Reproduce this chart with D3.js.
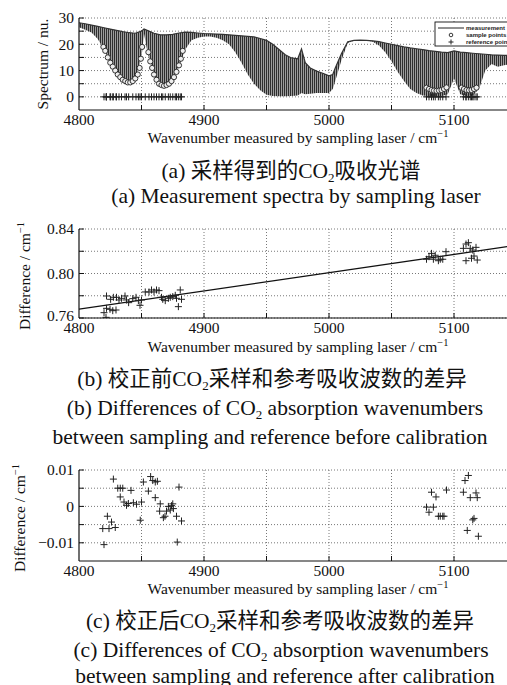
<!DOCTYPE html>
<meta charset="utf-8">
<script src="https://cdn.jsdelivr.net/npm/d3@7/dist/d3.min.js"></script>
<style>
body { margin: 0; background: #fff; }
svg { display: block; font-family: "Liberation Serif", "Noto Sans CJK SC", serif; }
.grid line { stroke: #555; stroke-width: 0.8; stroke-dasharray: 1,2; }
.tick-label { font-size: 15.5px; fill: #111; }
.caption { font-size: 21.5px; fill: #111; }
</style>
<body>
<script>
// ---- data ----
// (a) spectrum: upper envelope and depth of the absorption lines
var specWn = [4800,4805,4810,4815,4820,4825,4830,4835,4840,4845,
              4850,4852,4855,4860,4865,4870,4875,4880,4885,4890,
              4895,4900,4905,4910,4915,4920,4925,4930,4935,4940,
              4945,4950,4955,4960,4965,4970,4975,4978,4981,4985,
              4990,4995,5000,5003,5005,5010,5015,5020,5025,5030,
              5035,5040,5045,5050,5055,5060,5065,5070,5075,5080,
              5085,5090,5095,5100,5105,5110,5115,5120,5125,5130,
              5135,5140,5145];
var specTop = [28.2,27.8,27.3,26.8,26.3,25.8,25.3,24.8,24.4,24.2,
               25.0,25.8,25.2,24.2,23.6,23.6,23.8,24.3,24.6,24.5,
               24.3,24.1,24.0,23.9,23.8,23.6,23.4,23.2,23.0,22.8,
               22.2,21.5,20.0,18.0,16.0,14.8,14.5,18.2,13.0,11.0,
               9.8,9.0,8.0,8.5,11.0,16.5,21.0,21.5,21.6,21.5,
               21.3,21.0,20.5,20.0,19.5,19.0,18.6,18.3,18.0,17.6,
               17.3,17.0,16.8,17.5,17.0,16.8,16.6,16.4,16.2,16.0,
               15.9,15.8,15.7];
var specBottom = [26.5,25.5,24.5,22.0,18.0,13.0,9.0,6.0,5.2,6.5,
                  15.0,24.0,16.5,8.5,5.0,4.3,6.0,11.5,18.0,21.5,
                  22.5,23.0,23.0,22.5,21.5,20.0,17.0,13.0,8.5,5.0,
                  2.5,0.8,0.3,0.2,0.2,0.3,0.5,1.5,1.0,1.2,
                  1.5,1.5,1.5,3.0,6.0,14.0,20.5,21.3,21.5,21.4,
                  21.0,19.5,17.0,13.5,9.5,6.0,3.0,1.5,0.5,0.2,
                  0.2,0.3,1.0,7.0,1.0,0.3,0.5,3.0,10.0,12.5,
                  11.5,12.0,12.5];
// (a) sample points (circles)
var sampleWn = [4819.5,4821,4823,4825,4827,4829,4831,4833,4835,4837,4839,4841,4843,4845,4847,4848.5,4849.5,4850.5,
                4855.5,4857,4858.5,4860,4862,4864,4866,4868,4870,4872,4874,4876,4878,4880,4881.5,4883,
                5078,5080,5082,5084,5086,5088,5090,5092,5094,
                5106,5108,5110,5112,5114,5116,5118];
var sampleVal = [19,17.5,15,13,11.5,10,8.5,7.5,6.5,6,5.5,5.5,6,7,8.5,11,14.5,19,
                 17,13.5,11,8.5,6.5,5,4.5,4.2,4.5,5,6,7.5,9.5,12,14.5,17.5,
                 3.5,3,2.6,2.4,2.3,2.4,2.6,3,3.6,
                 3.5,3,2.6,2.5,2.6,3,3.5];
// (b) difference before calibration
var bWn = [4820,4821.6,4822,4824.8,4827,4829.6,4822,4825.3,4827.5,4830,4832,4834,4836.8,4838,4839.7,
           4843,4845.6,4847.5,4848.8,4850,4853,4856,4858,4860,4862,4864,4866,4867,4869,4871.5,4873,
           4875,4877,4878,4879.5,4881,4882,
           5078,5080,5082,5083.5,5085,5087.5,5089,5091,5093.6,
           5107.5,5109.6,5111.5,5113,5115,5116,5117.6,5109.6,5114,5118.6];
var bDiff = [0.7648,0.7606,0.7687,0.7678,0.7666,0.7672,0.7798,0.7768,0.7786,0.7786,0.7762,0.7777,0.7798,0.7762,0.7738,
             0.7774,0.7786,0.7756,0.7714,0.7762,0.7834,0.7834,0.7852,0.7834,0.7852,0.7846,0.7786,0.7768,0.7756,0.7777,0.7786,
             0.7792,0.7804,0.7777,0.7702,0.7852,0.7768,
             0.8128,0.8151,0.8181,0.8128,0.8164,0.8115,0.8128,0.8128,0.8196,
             0.8226,0.8265,0.8277,0.8226,0.8211,0.8157,0.8235,0.8115,0.8137,0.8121];
var fitWn = [4800, 5145];
var fitDiff = [0.768, 0.8245];
// (c) difference after calibration
var cWn = [4827.5,4831,4833,4835,4833,4836,4838,4839.5,4841.6,4843.5,4846,4849,4850,4819,4822.7,
           4824,4826,4829,4820,4851.5,4855.5,4857.3,4859,4861,4862.7,4861,4864.5,4865,4867.5,4868.8,
           4870,4871.5,4873,4874,4875,4875.5,4878,4878.6,4880,4882,
           5082,5085.6,5078,5080,5083.5,5087.5,5089,5091,5092,5094,
           5111.5,5108.8,5107.5,5113,5117.6,5118.6,5115,5116,5110.6,5119.5];
var cDiff = [0.0075,0.005,0.005,0.005,0.0026,0.0012,0.0003,0.0008,0.0044,0.001,0.0006,-0.0038,0.0012,-0.0061,-0.0027,
             -0.0061,-0.0043,-0.0058,-0.0105,0.0067,0.0042,0.0082,0.0071,0.0067,0.0069,0.0024,-0.0013,0.0007,-0.0031,-0.0027,
             -0.0013,0,-0.001,0.0002,0.0007,-0.0006,-0.0027,-0.0098,0.0053,-0.004,
             0.0039,0.0026,-0.0002,-0.0016,-0.0002,-0.0027,-0.0027,-0.0027,-0.0027,0.0045,
             0.0085,0.0071,0.0039,0.0024,0.0037,0.0024,-0.0037,-0.0033,-0.0066,-0.0082];

var xTickLabels = [4800, 4900, 5000, 5100];
var xGrid = [4850, 4900, 4950, 5000, 5050, 5100];
var legendLabels = ["measurement", "sample points", "reference points"];

// ---- layout ----
var width = 507, height = 685;
var svg = d3.select("body").append("svg")
    .attr("width", width)
    .attr("height", height);

var defs = svg.append("defs");
var pat = defs.append("pattern")
    .attr("id", "spikes")
    .attr("patternUnits", "userSpaceOnUse")
    .attr("width", 2).attr("height", 4);
pat.append("rect").attr("width", 2).attr("height", 4).attr("fill", "#9c9c9c");
pat.append("rect").attr("width", 1).attr("height", 4).attr("fill", "#2e2e2e");

var x = d3.scaleLinear().domain([4800, 5142.4]).range([79, 507]);

var plus = "M-3.5,0H3.5M0,-3.5V3.5";

function panel(p) {
  var y = d3.scaleLinear().domain(p.yDomain).range([p.bottom, p.top]);
  var g = svg.append("g");

  defs.append("clipPath").attr("id", "clip" + p.id)
    .append("rect").attr("x", 79).attr("y", p.top - 4)
    .attr("width", 430).attr("height", p.bottom - p.top + 4);

  var grid = g.append("g").attr("class", "grid");
  grid.selectAll(".gy").data(p.yGrid).enter().append("line")
      .attr("x1", 79).attr("x2", 507)
      .attr("y1", function(d) { return y(d); })
      .attr("y2", function(d) { return y(d); });
  grid.selectAll(".gx").data(xGrid).enter().append("line")
      .attr("x1", function(d) { return x(d); })
      .attr("x2", function(d) { return x(d); })
      .attr("y1", p.top).attr("y2", p.bottom);

  var plot = g.append("g").attr("clip-path", "url(#clip" + p.id + ")");

  // axes: left and bottom solid, inward ticks
  g.append("line").attr("x1", 79).attr("x2", 79).attr("y1", p.top).attr("y2", p.bottom)
      .attr("stroke", "#111").attr("stroke-width", 1.2);
  g.append("line").attr("x1", 79).attr("x2", 507).attr("y1", p.bottom).attr("y2", p.bottom)
      .attr("stroke", "#111").attr("stroke-width", 1.2);
  g.selectAll(".xt").data(xGrid).enter().append("line")
      .attr("x1", function(d) { return x(d); })
      .attr("x2", function(d) { return x(d); })
      .attr("y1", p.bottom).attr("y2", p.bottom - 5)
      .attr("stroke", "#111");
  g.selectAll(".yt").data(p.yGrid).enter().append("line")
      .attr("x1", 79).attr("x2", 84)
      .attr("y1", function(d) { return y(d); })
      .attr("y2", function(d) { return y(d); })
      .attr("stroke", "#111");

  g.selectAll(".xl").data(xTickLabels).enter().append("text")
      .attr("class", "tick-label")
      .attr("x", function(d) { return x(d); })
      .attr("y", p.bottom + 15)
      .attr("text-anchor", "middle")
      .text(function(d) { return d; });
  g.selectAll(".yl").data(p.yLabels).enter().append("text")
      .attr("class", "tick-label")
      .attr("x", 74)
      .attr("y", function(d) { return y(d) - (p.lowShift && d === p.yLabels[0] ? 2 : 0); })
      .attr("dy", "0.35em")
      .attr("text-anchor", "end")
      .text(p.yFormat);

  // axis titles
  var xt = g.append("text").attr("class", "tick-label")
      .attr("x", 298).attr("y", p.xTitleY).attr("text-anchor", "middle");
  xt.append("tspan").text("Wavenumber measured by sampling laser / cm");
  xt.append("tspan").attr("dy", -6).attr("font-size", "10.5px").text("\u22121");

  var yt = g.append("text").attr("class", "tick-label")
      .attr("transform", "translate(" + p.yTitleX + "," + p.yTitleY + ") rotate(-90)")
      .attr("text-anchor", "middle");
  yt.append("tspan").text(p.yTitle);
  if (p.yTitleSup) yt.append("tspan").attr("dy", -6).attr("font-size", "10.5px").text(p.yTitleSup);

  return {y: y, plot: plot, g: g};
}

// parts: plain strings, or ["2"] arrays for a subscript
function caption(cx, cy, parts) {
  var t = svg.append("text").attr("class", "caption")
      .attr("x", cx).attr("y", cy).attr("text-anchor", "middle");
  var back = 0;
  parts.forEach(function(s) {
    if (Array.isArray(s)) {
      t.append("tspan").attr("dy", 4).attr("font-size", "13px").text(s[0]);
      back = -4;
    } else {
      t.append("tspan").attr("dy", back).text(s);
      back = 0;
    }
  });
}

// ---- (a) ----
var A = panel({id: "a", top: 18, bottom: 110, yDomain: [-5, 30],
  yGrid: [0, 5, 10, 15, 20, 25, 30], yLabels: [0, 10, 20, 30],
  yFormat: function(d) { return d; },
  xTitleY: 143, yTitle: "Spectrum / nu.", yTitleX: 48, yTitleY: 64});

var spec = specWn.map(function(w, i) { return {w: w, t: specTop[i], b: specBottom[i]}; });
A.plot.append("path").datum(spec)
    .attr("fill", "url(#spikes)")
    .attr("d", d3.area()
      .x(function(d) { return x(d.w); })
      .y0(function(d) { return A.y(d.b); })
      .y1(function(d) { return A.y(d.t); }));
A.plot.append("path").datum(spec)
    .attr("fill", "none").attr("stroke", "#333").attr("stroke-width", 1.2)
    .attr("d", d3.line()
      .x(function(d) { return x(d.w); })
      .y(function(d) { return A.y(d.t); }));

A.plot.selectAll(".sp").data(sampleWn).enter().append("circle")
    .attr("cx", function(d) { return x(d); })
    .attr("cy", function(d, i) { return A.y(sampleVal[i]); })
    .attr("r", 2.6)
    .attr("fill", "#eee").attr("stroke", "#222").attr("stroke-width", 0.9);
A.plot.selectAll(".rp").data(bWn).enter().append("path")
    .attr("d", plus)
    .attr("transform", function(d) { return "translate(" + x(d) + "," + A.y(0) + ")"; })
    .attr("stroke", "#222").attr("stroke-width", 1).attr("fill", "none");

// legend (its right edge runs off the page, as in the original)
var lg = svg.append("g").attr("transform", "translate(435,22)");
lg.append("rect").attr("width", 80).attr("height", 24)
    .attr("fill", "#fff").attr("stroke", "#111").attr("stroke-width", 0.9);
lg.append("line").attr("x1", 3).attr("x2", 29).attr("y1", 6).attr("y2", 6)
    .attr("stroke", "#222").attr("stroke-width", 1);
lg.append("circle").attr("cx", 16).attr("cy", 13).attr("r", 1.8)
    .attr("fill", "none").attr("stroke", "#222").attr("stroke-width", 0.9);
lg.append("path").attr("d", "M-2.5,0H2.5M0,-2.5V2.5")
    .attr("transform", "translate(16,20)")
    .attr("stroke", "#222").attr("stroke-width", 1);
lg.selectAll(".lt").data(legendLabels).enter().append("text")
    .attr("x", 31)
    .attr("y", function(d, i) { return 8 + i * 7; })
    .attr("font-family", "Liberation Sans, Arial, sans-serif")
    .attr("font-size", "6px").attr("font-weight", "bold").attr("fill", "#222")
    .text(function(d) { return d; });

caption(291, 178, ["(a) 采样得到的CO", ["2"], "吸收光谱"]);
caption(296, 203, ["(a) Measurement spectra by sampling laser"]);

// ---- (b) ----
var B = panel({id: "b", top: 229, bottom: 318, yDomain: [0.76, 0.84],
  yGrid: [0.76, 0.78, 0.80, 0.82, 0.84], yLabels: [0.76, 0.80, 0.84],
  yFormat: d3.format(".2f"), lowShift: true,
  xTitleY: 352, yTitle: "Difference / cm", yTitleSup: "\u22121", yTitleX: 30, yTitleY: 276});

B.plot.append("path").datum(fitWn)
    .attr("fill", "none").attr("stroke", "#111").attr("stroke-width", 1.3)
    .attr("d", d3.line()
      .x(function(d) { return x(d); })
      .y(function(d, i) { return B.y(fitDiff[i]); }));
B.plot.selectAll(".bp").data(bWn).enter().append("path")
    .attr("d", plus)
    .attr("transform", function(d, i) { return "translate(" + x(d) + "," + B.y(bDiff[i]) + ")"; })
    .attr("stroke", "#222").attr("stroke-width", 1).attr("fill", "none");

caption(272, 386, ["(b) 校正前CO", ["2"], "采样和参考吸收波数的差异"]);
caption(275, 415, ["(b) Differences of CO", ["2"], " absorption wavenumbers"]);
caption(270, 444, ["between sampling and reference before calibration"]);

// ---- (c) ----
var C = panel({id: "c", top: 470, bottom: 561, yDomain: [-0.015, 0.01],
  yGrid: [-0.01, -0.005, 0, 0.005, 0.01], yLabels: [-0.01, 0, 0.01],
  yFormat: function(d) { return d === 0 ? "0" : (d < 0 ? "\u2212" : "") + Math.abs(d).toFixed(2); },
  xTitleY: 594, yTitle: "Difference / cm", yTitleSup: "\u22121", yTitleX: 25, yTitleY: 518});

C.plot.selectAll(".cp").data(cWn).enter().append("path")
    .attr("d", plus)
    .attr("transform", function(d, i) { return "translate(" + x(d) + "," + C.y(cDiff[i]) + ")"; })
    .attr("stroke", "#222").attr("stroke-width", 1).attr("fill", "none");

caption(280, 628, ["(c) 校正后CO", ["2"], "采样和参考吸收波数的差异"]);
caption(281, 657, ["(c) Differences of CO", ["2"], " absorption wavenumbers"]);
caption(285, 683, ["between sampling and reference after calibration"]);
</script>
</body>
